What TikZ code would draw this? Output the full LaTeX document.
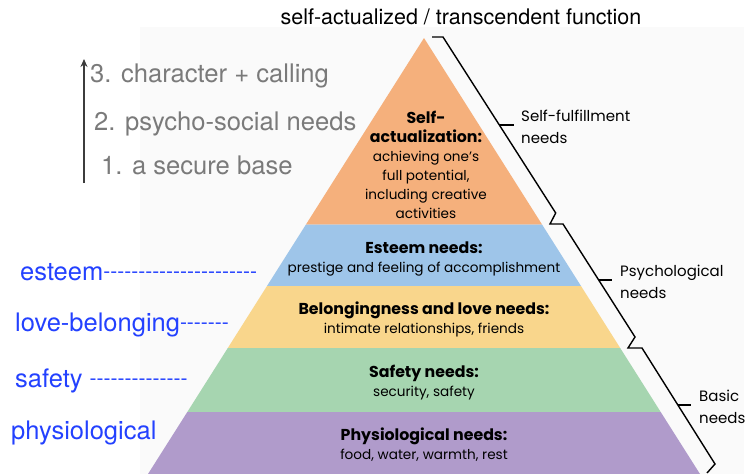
\documentclass[tikz,border=0pt]{standalone}
\usepackage{fontspec}
\setmainfont{TeX Gyre Heros}
\newfontfamily\fut{Poppins}
\newfontfamily\hel{TeX Gyre Heros}
\usetikzlibrary{arrows.meta}
\definecolor{orng}{RGB}{245,176,124}
\definecolor{blu}{RGB}{158,197,233}
\definecolor{yel}{RGB}{249,214,140}
\definecolor{grn}{RGB}{166,213,176}
\definecolor{prp}{RGB}{176,155,203}
\definecolor{bgc}{RGB}{250,250,250}
\definecolor{greytxt}{RGB}{122,122,122}
\definecolor{bluetxt}{RGB}{35,65,255}
\definecolor{arrowc}{RGB}{60,60,60}
\tikzset{
  layertext/.style={font=\fut\fontsize{13.6}{19}\selectfont, align=center, inner sep=0pt, text=black},
  sidelabel/.style={font=\fut\fontsize{15}{22}\selectfont, align=left, inner sep=0pt, anchor=west, text=black},
  listtext/.style={font=\hel\fontsize{25.6}{30}\selectfont, text=greytxt, inner sep=0pt, anchor=base west},
  bluelabel/.style={font=\hel\fontsize{25.5}{30}\selectfont, text=bluetxt, inner sep=0pt, anchor=base west},
  bracket/.style={draw=black, line width=1.4pt, line join=miter}
}
\newcommand\dsh[1]{{\fontsize{21}{21}\selectfont\raisebox{1.3pt}{#1}}}
\newcommand\hd[1]{{\fontsize{15.8}{19}\selectfont\bfseries #1}}
\begin{document}
\begin{tikzpicture}[x=1pt,y=-1pt]
\useasboundingbox (0,0) rectangle (748,474);
\fill[bgc] (140,27) rectangle (744,474);
% layers
\fill[orng] (424,38) -- (542.05,224.5) -- (305.95,224.5) -- cycle;
\fill[blu] (305.95,224.5) -- (542.05,224.5) -- (581,286) -- (267,286) -- cycle;
\fill[yel] (267,286) -- (581,286) -- (620.2,348) -- (227.8,348) -- cycle;
\fill[grn] (227.8,348) -- (620.2,348) -- (660.7,412) -- (187.3,412) -- cycle;
\fill[prp] (187.3,412) -- (660.7,412) -- (700,474) -- (148,474) -- cycle;
% layer texts
\node[layertext] (sa) at (426,165) {\hd{Self-}\\\hd{actualization:}\\achieving one’s\\full potential,\\including creative\\activities};
\node[layertext] (es) at (424,259) {\hd{Esteem needs:}\\prestige and feeling of accomplishment};
\node[layertext] (bl) at (424,319.5) {\hd{Belongingness and love needs:}\\intimate relationships, friends};
\node[layertext] (sf) at (424,383) {\hd{Safety needs:}\\security, safety};
\node[layertext] (ph) at (424,445) {\hd{Physiological needs:}\\food, water, warmth, rest};
% brackets
\draw[bracket] (432,37) -- (443,37) -- (555.7,213) -- (550,224) -- (563,224) -- (635,337) -- (628,348) -- (642,348) -- (715,464) -- (707,473);
\draw[bracket] (499.3,125) -- (514,125);
\draw[bracket] (598.7,280) -- (612,280);
\draw[bracket] (677.9,405) -- (691,405);
% side labels
\node[sidelabel] (sfl) at (521,127) {Self-fulfillment\\needs};
\node[sidelabel] (psl) at (620,282) {Psychological\\needs};
\node[sidelabel] (bal) at (699,407) {Basic\\needs};
% top text
\node[font=\hel\fontsize{21.5}{24}\selectfont, inner sep=0pt, anchor=base] (top) at (461,24) {self-actualized / transcendent function};
% left list
\coordinate (arrB) at (84,183);
\coordinate (arrT) at (84,59);
\draw[arrowc, line width=1.8pt, -{Stealth[length=8pt,width=7pt]}] (arrB) -- (arrT);
\node[listtext] (l3) at (90,82) {3. character + calling};
\node[listtext] (l2) at (94,130) {2. psycho-social needs};
\node[listtext] (l1) at (101,174) {1. a secure base};
% blue labels
\node[bluelabel] (b1) at (20,280) {esteem\dsh{----------------------}};
\node[bluelabel] (b2) at (15,331) {love-belonging\dsh{-------}};
\node[bluelabel] (b3) at (15,387) {safety \dsh{--------------}};
\node[bluelabel] (b4) at (11,439) {physiological};
\end{tikzpicture}
\end{document}
